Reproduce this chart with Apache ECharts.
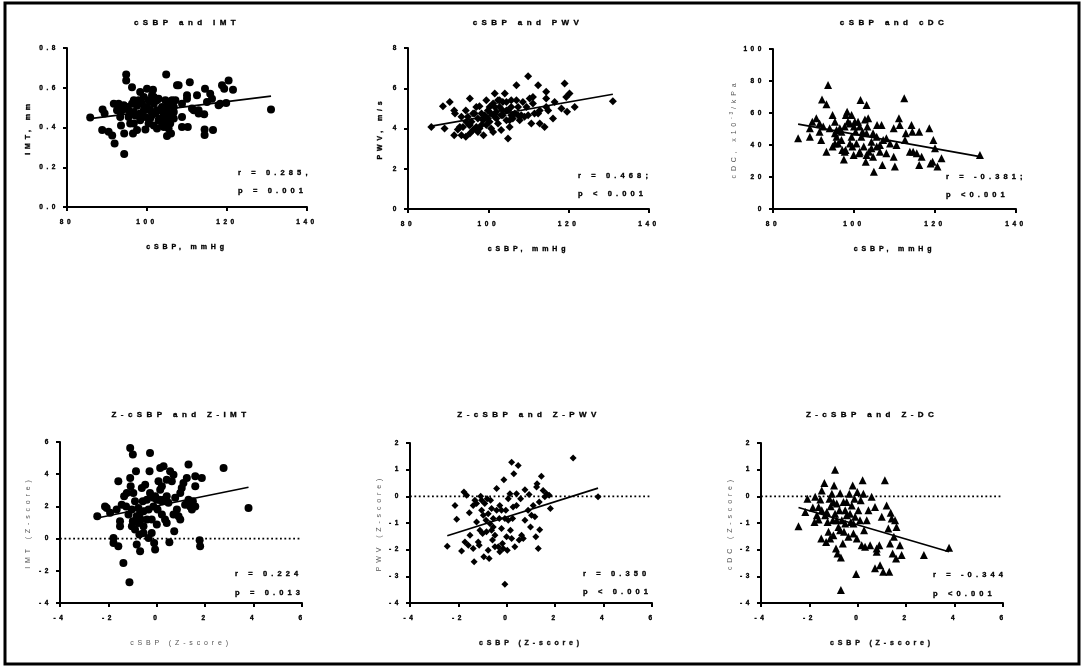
<!DOCTYPE html>
<html>
<head>
<meta charset="utf-8">
<script src="https://cdn.jsdelivr.net/npm/echarts@6/dist/echarts.min.js"></script>
<style>
html,body{margin:0;padding:0;background:#fff;}
#chart{width:1084px;height:669px;}
</style>
</head>
<body>
<div id="chart"></div>
<script>
// ---------------- DATA ----------------
const panelTitles = ['cSBP and IMT','cSBP and PWV','cSBP and cDC','Z-cSBP and Z-IMT','Z-cSBP and Z-PWV','Z-cSBP and Z-DC'];
const xNames = ['cSBP, mmHg','cSBP, mmHg','cSBP, mmHg','cSBP (Z-score)','cSBP (Z-score)','cSBP (Z-score)'];
const statR = ['r = 0.285,','r = 0.468;','r = -0.381;','r = 0.224','r = 0.350','r = -0.344'];
const statP = ['p = 0.001','p < 0.001','p <0.001','p = 0.013','p < 0.001','p <0.001'];

const imtPoints = [[85.8,0.45],[88.9,0.49],[89.4,0.47],[88.8,0.387],[90.4,0.378],[91.3,0.36],[91.9,0.32],[91.7,0.52],[92.9,0.52],[92.5,0.487],[93.3,0.453],[93.5,0.41],[94.3,0.267],[94.3,0.37],[94.8,0.667],[94.8,0.637],[95,0.503],[95.4,0.487],[96.25,0.603],[96.7,0.537],[96.7,0.42],[96.5,0.37],[97.1,0.46],[97.5,0.51],[98.3,0.578],[98.3,0.437],[99.2,0.487],[99.6,0.39],[100,0.595],[100.4,0.537],[100.8,0.487],[101.25,0.562],[101.5,0.59],[102.1,0.47],[101.7,0.41],[102.5,0.395],[102.9,0.545],[103.3,0.445],[103.75,0.503],[104.2,0.403],[104.8,0.667],[105,0.487],[105,0.357],[105.4,0.462],[106,0.37],[106.25,0.537],[106.7,0.445],[107.1,0.537],[107.5,0.612],[107.9,0.612],[108.75,0.453],[108.75,0.403],[110,0.562],[110.2,0.403],[110.7,0.628],[111.25,0.495],[111.7,0.487],[112.5,0.562],[112.9,0.487],[114.3,0.467],[114.5,0.595],[114.4,0.39],[114.4,0.362],[115,0.528],[115.8,0.57],[116.25,0.545],[116.5,0.387],[118.3,0.52],[118.75,0.612],[119.3,0.595],[119.8,0.523],[120.4,0.637],[121.5,0.59],[131,0.49],[93.75,0.487],[96.25,0.52],[97.5,0.462],[98.75,0.52],[100,0.503],[99.6,0.453],[100.8,0.445],[101.7,0.52],[102.5,0.487],[102.9,0.437],[104.2,0.462],[104.6,0.537],[105.4,0.512],[105.8,0.42],[103.75,0.42],[101.25,0.462],[98.3,0.47],[96.7,0.478],[95.4,0.453],[103.3,0.487],[102.5,0.537],[106.7,0.503],[108.75,0.52],[110,0.545],[112.9,0.47],[117.9,0.512],[99.2,0.553],[105.4,0.395],[101.7,0.553],[94.2,0.512],[95.8,0.42],[97.5,0.387],[105,0.437],[106.7,0.478],[100.4,0.42],[97.9,0.537]];

const pwvPoints = [[85.8,4.08],[89.1,4.0],[88.7,5.1],[90.4,5.32],[91.5,4.9],[91.7,4.74],[91.5,3.67],[92.4,3.95],[92.9,4.08],[93.3,4.58],[93.3,3.67],[94.4,3.59],[94.4,4.9],[94.9,4.58],[95.2,4.17],[95.4,5.49],[95.4,3.75],[96.2,3.92],[96.6,4.74],[97.0,5.07],[97.4,4.5],[97.8,5.1],[98.3,4.17],[98.8,3.67],[99.1,4.66],[99.5,5.4],[99.9,4.9],[100.3,4.33],[100.7,4.0],[101.2,5.24],[101.6,5.74],[101.6,4.58],[102.0,4.83],[102.4,4.25],[102.8,5.07],[103.2,3.92],[103.6,4.66],[104.1,5.74],[104.5,5.32],[104.9,4.9],[104.9,3.5],[105.3,4.41],[105.7,5.4],[106.1,4.5],[107,6.15],[107.4,5.07],[108.2,4.66],[108.6,5.32],[109.0,4.58],[109.9,6.6],[109.9,4.66],[110.3,5.49],[110.7,4.25],[111.1,5.24],[112.4,6.15],[112.4,4.74],[112.8,4.25],[114.0,4.08],[114.4,5.82],[114.4,5.07],[114.9,4.9],[116.1,4.5],[116.5,5.32],[118.2,4.99],[119,6.23],[119.4,5.57],[119.6,4.83],[120.2,5.74],[121.5,5.07],[131.0,5.36],[95.8,4.33],[97.8,4.0],[99.5,4.17],[100.7,4.74],[101.2,3.83],[102,4.5],[102.8,5.4],[103.2,4.66],[103.6,4.9],[104.5,4.41],[105.3,4.08],[105.7,5.07],[106.6,4.74],[96.2,4.74],[97.0,4.08],[98.3,4.74],[98.7,4.41],[93.7,4.08],[94.5,4.33],[100.3,5.07],[102.4,5.4],[103.6,5.32],[107.4,4.66],[109.5,5.07],[111.1,5.57],[114.4,5.49],[107,5.4],[101.6,5.07],[99.9,4.5],[97.4,3.83],[95.4,4.17],[104.5,4.9],[107.8,4.41],[105.7,4.66],[111.5,4.74],[112.8,4.9]];

const cdcPoints = [[86.2,44.2],[89.1,45.2],[89.1,50.4],[89.7,54.6],[90.7,56.7],[91.5,53.5],[91.5,48.3],[91.9,43.1],[92.1,68.5],[93.2,65.4],[93.2,35.8],[93.6,77.5],[94.0,50.4],[94.7,58.75],[94.7,39],[95.3,54.6],[95.3,47.3],[95.7,45.2],[96.5,50.4],[96.9,43.1],[97.1,36.9],[97.5,31],[97.7,51.5],[98.0,58.75],[98.3,60.8],[98.5,54.6],[99.0,41],[99.6,39],[99.9,33.75],[100.2,54.6],[100.4,48.3],[101,54.6],[101.3,34.8],[101.6,68.1],[101.8,45.2],[102.4,39],[102.7,56],[102.9,29.6],[103.1,65],[103.3,51.5],[103.5,56.7],[103.7,35.8],[104.3,42.1],[104.7,47.3],[104.9,23.3],[105.6,39],[105.7,52.5],[106.4,35.8],[106.8,52.5],[107,27.5],[107.2,43.1],[108,34.8],[108.9,41],[109.8,50.4],[109.8,32.7],[110.1,26.5],[110.5,40],[111.1,56.7],[111.3,52.5],[112.4,69.2],[112.6,43.1],[112.8,47.3],[113.8,35.8],[114.2,52.5],[114.4,48.3],[114.6,35.8],[115.5,34.8],[116.1,48.3],[116.1,27.5],[116.7,32.7],[118.6,50.4],[118.9,28.5],[119.4,29.6],[119.6,43.1],[120,38],[120.6,26.5],[121.6,31.7],[131.1,33.75],[96.1,41],[97.9,36.9],[99.4,45.2],[100.6,41],[101.4,51.5],[103.1,47.3],[104.3,38],[96.9,48.3],[99,53.5],[102.1,48.3],[105.6,45.2],[106.4,40],[108,44.2],[95.3,41],[101.4,35.8],[97.7,35.8],[103.1,33.75],[104.7,32.7],[100,51.5],[95.7,49.4],[92.4,51.5],[99.4,58.75]];

const zImtPoints = [[-2.46,1.39],[-2.14,2.0],[-2.07,1.9],[-1.93,1.6],[-1.79,0.04],[-1.79,-0.27],[-1.59,-0.48],[-1.59,3.56],[-1.66,1.8],[-1.52,1.08],[-1.52,0.77],[-1.45,2.11],[-1.38,-1.51],[-1.35,2.63],[-1.27,2.0],[-1.17,1.49],[-1.1,5.63],[-0.99,5.22],[-1.13,-2.71],[-1.1,3.77],[-1.08,3.25],[-1.03,1.8],[-0.99,1.08],[-0.97,2.84],[-0.9,2.32],[-0.9,0.56],[-0.86,4.18],[-0.83,-0.37],[-0.76,1.9],[-0.76,0.97],[-0.72,0.25],[-0.69,-0.79],[-0.66,1.18],[-0.62,3.15],[-0.58,2.32],[-0.55,0.35],[-0.48,3.35],[-0.41,2.42],[-0.34,0.04],[-0.3,4.18],[-0.28,5.32],[-0.28,2.84],[-0.21,1.18],[-0.21,0.35],[-0.14,2.0],[-0.11,-0.27],[-0.07,-0.68],[-0.07,2.63],[0.0,0.87],[0.03,1.8],[0.07,3.56],[0.11,2.42],[0.14,4.39],[0.21,3.25],[0.21,1.49],[0.28,4.49],[0.28,2.42],[0.34,1.18],[0.41,3.66],[0.41,0.97],[0.48,2.22],[0.52,-0.23],[0.55,4.18],[0.62,3.56],[0.69,3.97],[0.72,0.46],[0.76,2.53],[0.83,1.8],[0.9,1.39],[0.97,1.18],[0.97,2.84],[1.03,3.15],[1.1,3.46],[1.17,2.11],[1.24,3.77],[1.31,4.6],[1.31,2.42],[1.38,2.0],[1.45,1.8],[1.49,2.32],[1.59,3.87],[1.59,2.0],[1.59,3.25],[1.77,-0.1],[1.79,-0.48],[1.86,3.77],[2.76,4.39],[3.79,1.9],[-0.55,1.7],[-0.34,1.8],[-0.14,2.53],[0.14,3.04],[0.41,2.63],[-0.83,1.39],[-0.69,1.6],[-0.41,1.18],[-1.24,2.84],[-1.03,0.77],[-0.55,0.77],[0.21,2.32],[0.69,1.49],[0.0,2.42]];

const zPwvPoints = [[-2.46,-1.87],[-2.14,-0.34],[-2.07,-0.86],[-1.87,-2.05],[-1.77,0.16],[-1.66,0.04],[-1.73,-1.71],[-1.59,-1.83],[-1.55,-0.62],[-1.52,-1.46],[-1.39,-1.96],[-1.35,-2.45],[-1.32,-0.15],[-1.25,-0.96],[-1.18,-1.71],[-1.14,-1.83],[-1.08,0.0],[-1.04,-0.52],[-1.0,-1.39],[-0.95,-2.27],[-0.91,-0.27],[-0.86,-0.9],[-0.81,-0.09],[-0.77,-2.02],[-0.73,-2.33],[-0.7,-1.02],[-0.67,-0.15],[-0.63,-0.46],[-0.59,-1.64],[-0.56,-0.83],[-0.49,-1.46],[-0.42,0.29],[-0.35,-1.89],[-0.31,-0.83],[-0.29,-0.34],[-0.22,-1.21],[-0.18,-1.77],[-0.12,0.62],[-0.08,-0.83],[-0.08,-3.3],[-0.04,-0.52],[-0.01,-1.52],[0.02,-2.02],[0.06,-0.09],[0.13,0.1],[0.15,-1.27],[0.2,1.28],[0.24,-0.83],[0.26,-0.4],[0.29,0.85],[0.33,-1.89],[0.4,0.1],[0.47,1.16],[0.51,-1.64],[0.57,-0.09],[0.61,-1.46],[0.68,-1.58],[0.75,0.25],[0.75,-0.9],[0.88,-0.52],[0.92,0.07],[0.98,-1.15],[1.09,-0.34],[1.16,-0.77],[1.2,-1.52],[1.23,0.35],[1.25,0.47],[1.3,-1.96],[1.34,-0.21],[1.36,-1.25],[1.43,0.75],[1.5,0.22],[1.57,-0.02],[1.64,0.1],[1.75,0.04],[1.8,-0.46],[2.74,1.44],[3.77,-0.02],[-0.97,-0.71],[-0.84,-1.33],[-0.56,-1.15],[-0.42,-0.52],[-0.29,-2.08],[-0.15,-1.96],[0.06,-0.9],[-0.63,-1.27],[-1.11,-1.27],[-1.25,-0.27],[-1.04,-0.15],[-0.77,-0.65],[-0.49,-1.89],[0.4,-0.34],[1.02,-0.71],[-0.22,-0.52],[-1.39,-0.34],[0.2,-1.58]];

const zDcPoints = [[-2.45,-1.12],[-2.17,-0.59],[-2.08,-0.09],[-1.86,-0.42],[-1.79,-0.96],[-1.76,-0.02],[-1.69,-0.71],[-1.62,-0.87],[-1.55,-0.12],[-1.51,-1.58],[-1.49,-0.52],[-1.49,0.22],[-1.38,0.5],[-1.35,-0.71],[-1.31,-1.71],[-1.25,-0.96],[-1.21,-1.33],[-1.17,-0.09],[-1.14,-1.58],[-1.12,-0.37],[-1.07,0.1],[-1.03,-0.9],[-1.01,-1.46],[-0.98,0.41],[-0.94,1.0],[-0.94,-0.65],[-0.9,-1.96],[-0.87,-0.27],[-0.84,-2.14],[-0.8,-1.15],[-0.76,-0.52],[-0.73,0.12],[-0.7,-2.29],[-0.7,-3.51],[-0.66,-0.9],[-0.62,-1.77],[-0.59,-0.21],[-0.57,-1.33],[-0.52,-0.52],[-0.46,-0.71],[-0.39,-1.52],[-0.35,0.1],[-0.29,-0.96],[-0.25,-0.34],[-0.21,0.41],[-0.18,-1.39],[-0.14,-0.09],[-0.11,-0.77],[-0.07,-2.91],[-0.04,-1.58],[-0.02,0.16],[0.02,-0.52],[0.09,-0.9],[0.12,-0.15],[0.16,-1.83],[0.2,0.6],[0.23,0.1],[0.26,-1.27],[0.3,-1.89],[0.44,-0.52],[0.51,-1.83],[0.57,-0.02],[0.71,-0.4],[0.71,-2.7],[0.78,-1.96],[0.78,-2.08],[0.89,-1.83],[0.92,-2.58],[0.99,-0.77],[1.05,-2.83],[1.12,0.6],[1.19,-0.34],[1.26,-1.21],[1.3,-2.83],[1.33,-1.77],[1.36,-0.62],[1.4,-0.83],[1.44,-2.14],[1.49,-1.52],[1.54,-0.9],[1.58,-2.33],[1.6,-1.15],[1.74,-1.83],[1.81,-2.2],[2.73,-2.2],[3.77,-1.93],[-1.28,-0.59],[-0.87,-0.9],[-0.73,-1.27],[-0.52,-1.02],[-0.32,-0.65],[-0.18,-1.02],[0.37,-0.9],[-0.46,-0.21],[-1.01,-0.21],[-1.62,-0.4]];

// regression lines as drawn (end points)
const imtFit = [[85.8,0.445],[131,0.558]];
const pwvFit = [[85.8,4.12],[131,5.7]];
const cdcFit = [[86.2,53.1],[131.1,32.7]];
const zImtFit = [[-2.46,1.28],[3.79,3.19]];
const zPwvFit = [[-2.46,-1.48],[3.77,0.31]];
const zDcFit = [[-2.45,-0.42],[3.77,-2.08]];
const zeroRef = [[-4,0],[6,0]];

const xTicksTop = [80,100,120,140];
const xTicksZ = [-4,-2,0,2,4,6];

// --------------- letter spacing of the original figure ---------------
(function(){
  const P = CanvasRenderingContext2D.prototype;
  const ft = P.fillText, mt = P.measureText, st = P.strokeText;
  function ls(ctx){
    const m = /(\d+(?:\.\d+)?)px/.exec(ctx.font);
    if (m && ('letterSpacing' in ctx)) ctx.letterSpacing = (parseFloat(m[1]) * 0.55).toFixed(2) + 'px';
  }
  P.fillText = function(){ ls(this); return ft.apply(this, arguments); };
  P.strokeText = function(){ ls(this); return st.apply(this, arguments); };
  P.measureText = function(){ ls(this); return mt.apply(this, arguments); };
})();

// --------------- LAYOUT ----------------
const FONT = '"Liberation Sans", Arial, sans-serif';
const grids = [
  {left:67, top:48, width:240, height:159},
  {left:408, top:48, width:241, height:161},
  {left:773, top:49, width:243, height:160},
  {left:60, top:442, width:242, height:161},
  {left:410, top:443, width:242, height:160},
  {left:761, top:443, width:242, height:160}
];
const yRanges = [[0,0.8,0.2],[0,8,2],[0,100,20],[-4,6,2],[-4,2,1],[-4,2,1]];
const yNameGap = [34,23,32,27,24,24];
const yNameColor = ['#000','#000','#555','#555','#555','#555'];
const yNameWeight = ['bold','bold','normal','normal','normal','normal'];
const xNameColor = ['#000','#000','#000','#555','#111','#111'];
const symbols = ['circle','diamond','triangle','circle','diamond','triangle'];
const symSizes = [8,8,8,8,7,8];
const pointSets = [imtPoints,pwvPoints,cdcPoints,zImtPoints,zPwvPoints,zDcPoints];
const fitSets = [imtFit,pwvFit,cdcFit,zImtFit,zPwvFit,zDcFit];
const titleX = [187,528,894,181,529,872];
const titleY = [23,23,23,415,415,415];
const statX = [238,578,946,235,583,933];
const statRY = [173,176,177,574,574,575];
const statPY = [191,194,195,593,592,594];

const axisLine = {show:true, onZero:false, lineStyle:{color:'#000', width:2}};
const axisTick = {show:true, inside:false, length:4, lineStyle:{color:'#000', width:2}};
const heavy = {textBorderColor:'#000', textBorderWidth:0.35};

const xAxes = [], yAxes = [], series = [];
for (let i = 0; i < 6; i++) {
  const top = i < 3;
  xAxes.push({
    gridIndex:i, type:'value',
    min: top ? xTicksTop[0] : xTicksZ[0],
    max: top ? xTicksTop[xTicksTop.length-1] : xTicksZ[xTicksZ.length-1],
    interval: top ? 20 : 2,
    name: xNames[i], nameLocation:'middle', nameGap:35,
    nameTextStyle: Object.assign({fontFamily:FONT, fontSize:7, fontWeight: i===3 ? 'normal' : 'bold', color:xNameColor[i]},
      i===3 ? {} : heavy),
    axisLine, axisTick,
    axisLabel: Object.assign({margin:10, fontFamily:FONT, fontSize:6.5, fontWeight:'bold', color:'#000'}, heavy),
    splitLine:{show:false}
  });
  const yr = yRanges[i];
  let yName = ['IMT, mm','PWV, m/s','','IMT (Z-score)','PWV (Z-score)','cDC (Z-score)'][i];
  const nts = {fontFamily:FONT, fontSize:7, fontWeight:yNameWeight[i], color:yNameColor[i]};
  if (i < 2) Object.assign(nts, heavy);
  if (i === 2) {
    yName = '{a|cDC, x10}{s|-3}{a|/kPa}';
    nts.rich = {
      a:{fontFamily:FONT, fontSize:7, color:'#555'},
      s:{fontFamily:FONT, fontSize:5, color:'#555', verticalAlign:'top', padding:[0,0,5,0]}
    };
  }
  yAxes.push({
    gridIndex:i, type:'value', min:yr[0], max:yr[1], interval:yr[2],
    name: yName, nameLocation:'middle', nameGap:yNameGap[i], nameRotate:90,
    nameTextStyle: nts,
    axisLine, axisTick,
    axisLabel: Object.assign({margin:8, fontFamily:FONT, fontSize:6.5, fontWeight:'bold', color:'#000',
      formatter: i === 0 ? (v => v.toFixed(1)) : (v => String(v))}, heavy),
    splitLine:{show:false}
  });
  series.push({
    type:'scatter', xAxisIndex:i, yAxisIndex:i,
    symbol:symbols[i], symbolSize:symSizes[i],
    itemStyle:{color:'#000', opacity:1},
    data: pointSets[i], silent:true, z:3
  });
  series.push({
    type:'line', xAxisIndex:i, yAxisIndex:i, data: fitSets[i],
    showSymbol:false, symbol:'none', lineStyle:{color:'#000', width:1.7}, silent:true, z:4
  });
  if (!top) {
    series.push({
      type:'line', xAxisIndex:i, yAxisIndex:i, data: zeroRef,
      showSymbol:false, symbol:'none', lineStyle:{color:'#000', width:1.8, type:[1.8,2.6]}, silent:true, z:2
    });
  }
}

const graphic = [
  {type:'rect', shape:{x:5, y:3, width:1074, height:661}, style:{fill:'none', stroke:'#000', lineWidth:3}, z:0, silent:true}
];
for (let i = 0; i < 6; i++) {
  graphic.push({type:'text', x:titleX[i], y:titleY[i], silent:true,
    style:{text:panelTitles[i], fill:'#000', font:'bold 8px ' + FONT, textAlign:'center', textVerticalAlign:'middle', stroke:'#000', lineWidth:0.35}});
  graphic.push({type:'text', x:statX[i], y:statRY[i], silent:true,
    style:{text:statR[i], fill:'#000', font:'bold 7.5px ' + FONT, textAlign:'left', textVerticalAlign:'middle', stroke:'#000', lineWidth:0.35}});
  graphic.push({type:'text', x:statX[i], y:statPY[i], silent:true,
    style:{text:statP[i], fill:'#000', font:'bold 7.5px ' + FONT, textAlign:'left', textVerticalAlign:'middle', stroke:'#000', lineWidth:0.35}});
}

const chart = echarts.init(document.getElementById('chart'), null, {renderer:'canvas'});
chart.setOption({
  backgroundColor:'#fff',
  animation:false,
  grid: grids.map(g => Object.assign({containLabel:false}, g)),
  xAxis: xAxes,
  yAxis: yAxes,
  series: series,
  graphic: graphic
});
</script>
</body>
</html>
